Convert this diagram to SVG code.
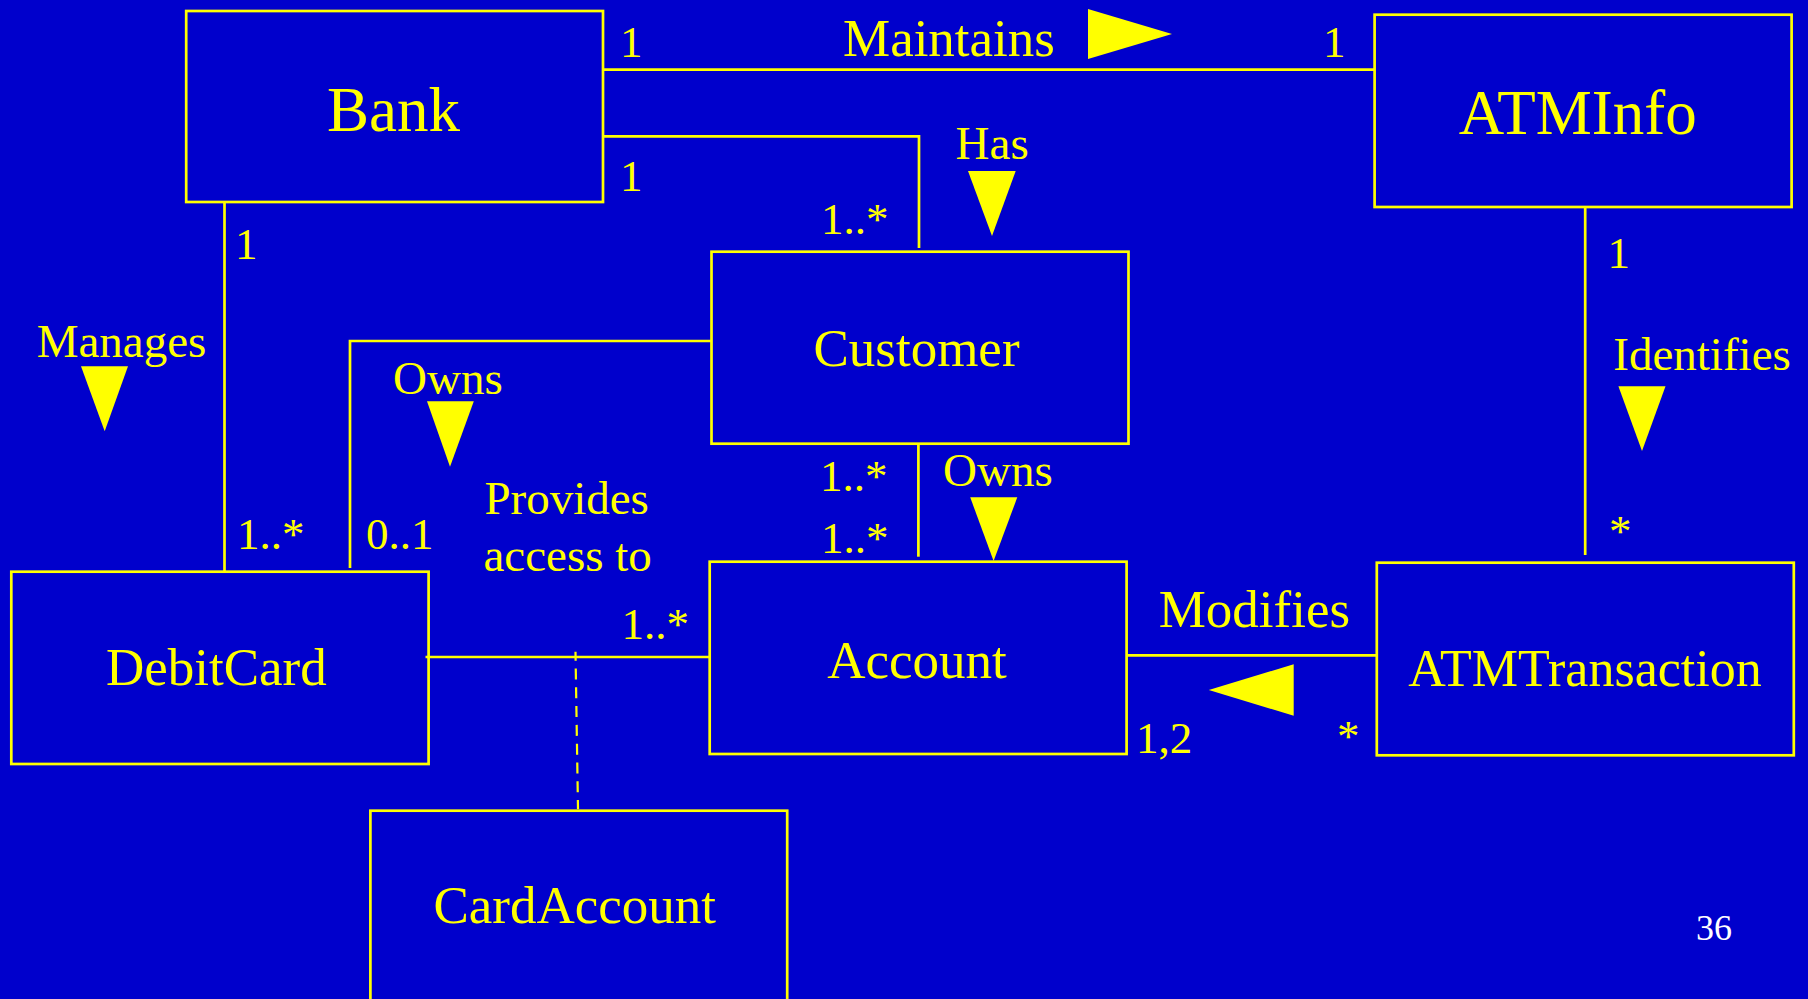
<svg xmlns="http://www.w3.org/2000/svg" width="1808" height="999" viewBox="0 0 1808 999">
<style>
.box{fill:none;stroke:#FFFF00;stroke-width:2.7}
.ln{fill:none;stroke:#FFFF00;stroke-width:2.7}
.dash{fill:none;stroke:#FFFF00;stroke-width:2.2;stroke-dasharray:11 7.8;stroke-dashoffset:2}
.tri{fill:#FFFF00;stroke:none}
text{font-family:"Liberation Serif","Times New Roman",serif;fill:#FFFF00}
.cls{font-size:53px;text-anchor:middle}
.big{font-size:63px;text-anchor:middle}
.lbl{font-size:47px}
.lbl2{font-size:53px}
.m{font-size:45px}
</style>
<rect x="0" y="0" width="1808" height="999" fill="#0000CC"/>
<g id="connectors">
<polyline class="ln" points="603,69.7 1375,69.7"/>
<polyline class="ln" points="603,136.3 919,136.3 919,248"/>
<polyline class="ln" points="224.5,202 224.5,571.7"/>
<polyline class="ln" points="711,341 350,341 350,568"/>
<polyline class="ln" points="918.4,443.7 918.4,556.7"/>
<polyline class="ln" points="425.5,657 709.5,657"/>
<line class="dash" x1="575.5" y1="651.7" x2="578" y2="809.3"/>
<polyline class="ln" points="1126.5,655.3 1376.6,655.3"/>
<polyline class="ln" points="1585.2,207 1585.2,555"/>
<polygon class="tri" points="1088,9 1172,34 1088,59"/>
<polygon class="tri" points="968,171 1015.7,171 992,236"/>
<polygon class="tri" points="81,366.3 128,366.3 104.7,431.3"/>
<polygon class="tri" points="427,401.3 473.8,401.3 450,466.7"/>
<polygon class="tri" points="970.2,497.3 1017.3,497.3 993.6,561"/>
<polygon class="tri" points="1618.4,386.3 1665.5,386.3 1642,451"/>
<polygon class="tri" points="1293.7,664.3 1293.7,715.7 1208.8,690"/>
<text class="lbl2" x="843" y="56">Maintains</text>
<text class="lbl" x="955.6" y="159">Has</text>
<text class="lbl" x="36.7" y="357.3">Manages</text>
<text class="lbl" x="393" y="394">Owns</text>
<text class="lbl" x="943" y="486">Owns</text>
<text class="lbl" x="484.4" y="514.3">Provides</text>
<text class="lbl" x="483.5" y="571">access to</text>
<text class="lbl" x="1613.3" y="370">Identifies</text>
<text class="lbl2" x="1158.7" y="626.7">Modifies</text>
<text class="m" x="620" y="57">1</text>
<text class="m" x="1323" y="57">1</text>
<text class="m" x="620" y="190.7">1</text>
<text class="m" x="821" y="234">1..*</text>
<text class="m" x="235" y="259">1</text>
<text class="m" x="1607.5" y="268">1</text>
<text class="m" x="237" y="549.3">1..*</text>
<text class="m" x="366" y="549.3">0..1</text>
<text class="m" x="820" y="490.7">1..*</text>
<text class="m" x="821" y="553.3">1..*</text>
<text class="m" x="1609" y="546">*</text>
<text class="m" x="621.5" y="639.3">1..*</text>
<text class="m" x="1136" y="753.3">1,2</text>
<text class="m" x="1337" y="751">*</text>
</g>
<g id="Bank"><rect class="box" x="186.2" y="11" width="416.8" height="191"/><text class="big" x="393.5" y="131">Bank</text></g>
<g id="ATMInfo"><rect class="box" x="1374.6" y="14.7" width="417" height="192.3"/><text class="big" x="1577.7" y="134.3">ATMInfo</text></g>
<g id="Customer"><rect class="box" x="711.5" y="251.7" width="417" height="192"/><text class="cls" x="916.5" y="366">Customer</text></g>
<g id="Account"><rect class="box" x="709.7" y="561.7" width="416.9" height="192.3"/><text class="cls" x="917" y="678.3">Account</text></g>
<g id="DebitCard"><rect class="box" x="11.3" y="571.7" width="417.3" height="192.3"/><text class="cls" x="216.3" y="685">DebitCard</text></g>
<g id="ATMTransaction"><rect class="box" x="1376.8" y="562.7" width="417" height="192.6"/><text class="cls" x="1585" y="685.7" style="font-size:52px">ATMTransaction</text></g>
<g id="CardAccount"><rect class="box" x="370.4" y="810.7" width="416.8" height="200"/><text class="cls" x="574.7" y="923.3">CardAccount</text></g>
<text x="1696" y="940" style="font-size:36px;fill:#FFFFFF">36</text>
</svg>
